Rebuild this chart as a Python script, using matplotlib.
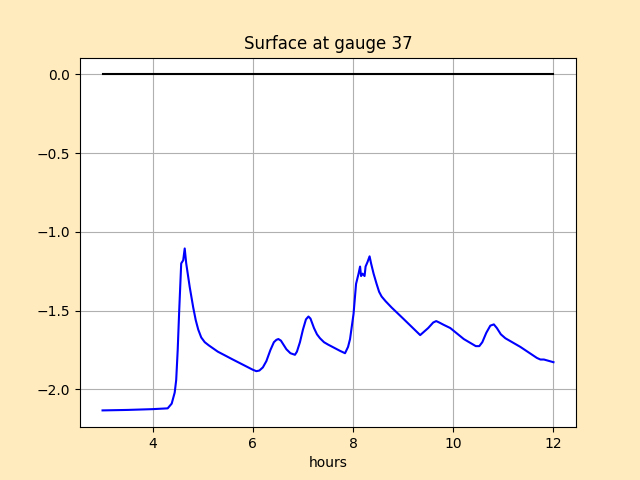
import numpy as np
import matplotlib.pyplot as plt

# gauge surface
hours = [3.0, 3.5, 4.0, 4.3, 4.38, 4.44, 4.47, 4.50, 4.53, 4.57, 4.61, 4.64, 4.67,
         4.74, 4.81, 4.86, 4.91, 4.97, 5.04, 5.12, 5.3, 5.6, 6.0, 6.07, 6.13, 6.2,
         6.27, 6.35, 6.42, 6.47, 6.51, 6.56, 6.62, 6.67, 6.75, 6.84, 6.88, 6.94,
         7.0, 7.06, 7.11, 7.15, 7.22, 7.28, 7.34, 7.42, 7.5, 7.74, 7.84, 7.9, 7.94,
         8.01, 8.06, 8.11, 8.14, 8.16, 8.19, 8.23, 8.25, 8.29, 8.33, 8.36, 8.41,
         8.47, 8.52, 8.57, 8.65, 8.77, 9.0, 9.34, 9.5, 9.6, 9.66, 9.72, 9.81, 9.94,
         10.21, 10.45, 10.52, 10.58, 10.66, 10.74, 10.81, 10.87, 10.95, 11.04,
         11.34, 11.67, 11.74, 11.81, 12.0]
surface = [-2.133, -2.13, -2.125, -2.12, -2.09, -2.02, -1.94, -1.75, -1.50, -1.20,
           -1.18, -1.105, -1.20, -1.35, -1.48, -1.56, -1.62, -1.67, -1.70, -1.72,
           -1.76, -1.81, -1.875, -1.884, -1.88, -1.86, -1.82, -1.75, -1.70, -1.685,
           -1.68, -1.69, -1.72, -1.745, -1.77, -1.78, -1.76, -1.70, -1.62, -1.555,
           -1.537, -1.55, -1.61, -1.65, -1.675, -1.70, -1.715, -1.755, -1.77, -1.73,
           -1.68, -1.52, -1.33, -1.265, -1.22, -1.28, -1.265, -1.28, -1.22, -1.19,
           -1.155, -1.20, -1.265, -1.33, -1.38, -1.41, -1.44, -1.48, -1.55, -1.655,
           -1.61, -1.575, -1.566, -1.575, -1.59, -1.61, -1.68, -1.725, -1.725,
           -1.70, -1.64, -1.595, -1.587, -1.61, -1.65, -1.675, -1.73, -1.80, -1.81,
           -1.81, -1.827]
ref_hours = [3.0, 12.0]
ref_level = [0.0, 0.0]

fig = plt.figure(figsize=(6.4, 4.8), dpi=100, facecolor='#ffebbe')
ax = fig.add_subplot(111)
ax.plot(ref_hours, ref_level, 'k')
ax.plot(hours, surface, 'b')
ax.set_title('Surface at gauge 37')
ax.set_xlabel('hours')
ax.grid(True)
fig.savefig('out.png', facecolor=fig.get_facecolor())
